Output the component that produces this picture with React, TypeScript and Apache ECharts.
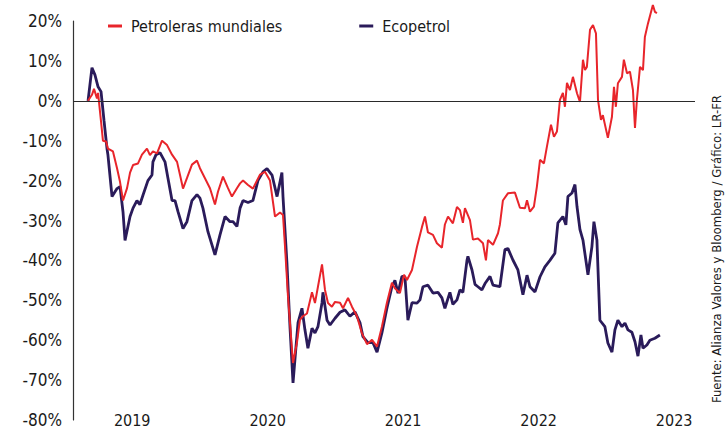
import React, { useEffect, useRef } from "react";
import * as echarts from "echarts";

const seriesNames = ["Petroleras mundiales", "Ecopetrol"];
const yearTicks = [2019, 2020, 2021, 2022, 2023];
const sourceText = "Fuente: Alianza Valores y Bloomberg / Gráfico: LR-FR";

const petrolerasDates = [
  2018.674, 2018.703, 2018.718, 2018.74, 2018.748, 2018.77, 2018.784, 2018.807, 2018.821, 2018.858,
  2018.888, 2018.91, 2018.932, 2018.962, 2018.984, 2019.006, 2019.043, 2019.072, 2019.109, 2019.131,
  2019.153, 2019.183, 2019.22, 2019.257, 2019.294, 2019.331, 2019.353, 2019.375, 2019.404, 2019.441,
  2019.478, 2019.5, 2019.537, 2019.574, 2019.611, 2019.633, 2019.67, 2019.707, 2019.736, 2019.773,
  2019.796, 2019.818, 2019.855, 2019.891, 2019.943, 2019.98, 2020.017, 2020.054, 2020.091, 2020.113,
  2020.128, 2020.15, 2020.187, 2020.216, 2020.238, 2020.26, 2020.29, 2020.327, 2020.349, 2020.371,
  2020.401, 2020.423, 2020.445, 2020.474, 2020.497, 2020.534, 2020.556, 2020.593, 2020.622, 2020.659,
  2020.696, 2020.733, 2020.77, 2020.807, 2020.843, 2020.88, 2020.917, 2020.939, 2020.976, 2021.006,
  2021.028, 2021.065, 2021.102, 2021.139, 2021.161, 2021.183, 2021.22, 2021.249, 2021.286, 2021.308,
  2021.331, 2021.367, 2021.397, 2021.419, 2021.441, 2021.456, 2021.493, 2021.515, 2021.552, 2021.589,
  2021.611, 2021.626, 2021.663, 2021.7, 2021.714, 2021.736, 2021.773, 2021.825, 2021.862, 2021.899,
  2021.914, 2021.936, 2021.965, 2021.987, 2022.01, 2022.039, 2022.061, 2022.091, 2022.113, 2022.135,
  2022.157, 2022.179, 2022.194, 2022.209, 2022.231, 2022.253, 2022.283, 2022.305, 2022.327, 2022.342,
  2022.356, 2022.379, 2022.401, 2022.423, 2022.438, 2022.46, 2022.474, 2022.511, 2022.541, 2022.556,
  2022.57, 2022.585, 2022.615, 2022.629, 2022.652, 2022.674, 2022.696, 2022.711, 2022.725, 2022.748,
  2022.77, 2022.784, 2022.807, 2022.843, 2022.858, 2022.873,
];
const petrolerasValues = [
  0, 1.5, 3, 0.6, 2, -5.2, -10, -10.2, -12, -12.7,
  -16.9, -20.3, -25, -21.9, -18, -16.1, -15.7, -13.5, -12, -13.6,
  -12.7, -13.2, -10, -11.1, -13.5, -15.3, -18.6, -22, -19.4, -16,
  -15, -16.9, -19.4, -21.9, -26, -22.8, -19, -21.9, -24, -21.9,
  -20.7, -20, -21.1, -22, -18.5, -17.8, -20, -29, -28, -28.6,
  -36.6, -49.1, -65.7, -60.6, -54.9, -54, -53.3, -48, -50.7, -46.6,
  -41, -47.4, -50.7, -51.6, -50.4, -50.6, -52, -49.4, -51.6, -54,
  -58.3, -61, -59.9, -61.6, -56.6, -50.6, -45.6, -47, -48.2, -43.6,
  -44.9, -42.4, -36.6, -31.6, -29, -33, -33.6, -35.7, -36.8, -31,
  -29, -30.7, -26.6, -27.4, -30.6, -26.9, -29.9, -34.8, -34.5, -35.7,
  -40, -34.9, -36.1, -33.2, -31, -25, -23.2, -23, -26.8, -26.9,
  -24.9, -27.8, -26.5, -21.5, -14.8, -15.7, -11.5, -6, -9, -7.7,
  0.25, 2, -1.5, 4.5, 2.7, 6, 1.9, -0.25, 10.3, 7.7,
  8.5, 17.8, 19, 16.9, 0.25, -4.8, -3.6, -9.3, -4, 3.5,
  -1.5, 4.4, 6, 10.3, 6.9, 7.3, 2.7, -6.8, 0.2, 8.5,
  7.7, 16, 19.4, 24, 22.3, 22,
];

const ecopetrolDates = [
  2018.674, 2018.703, 2018.725, 2018.748, 2018.77, 2018.777, 2018.792, 2018.814, 2018.821, 2018.851,
  2018.888, 2018.91, 2018.932, 2018.947, 2018.984, 2019.006, 2019.035, 2019.057, 2019.08, 2019.116,
  2019.146, 2019.153, 2019.176, 2019.205, 2019.242, 2019.264, 2019.294, 2019.316, 2019.338, 2019.375,
  2019.404, 2019.441, 2019.478, 2019.5, 2019.522, 2019.559, 2019.611, 2019.648, 2019.685, 2019.722,
  2019.744, 2019.773, 2019.796, 2019.818, 2019.855, 2019.891, 2019.928, 2019.965, 2019.995, 2020.032,
  2020.069, 2020.105, 2020.113, 2020.142, 2020.165, 2020.187, 2020.209, 2020.224, 2020.253, 2020.275,
  2020.297, 2020.327, 2020.349, 2020.371, 2020.401, 2020.408, 2020.438, 2020.46, 2020.497, 2020.534,
  2020.57, 2020.607, 2020.644, 2020.681, 2020.703, 2020.74, 2020.777, 2020.807, 2020.843, 2020.88,
  2020.917, 2020.939, 2020.962, 2020.991, 2021.013, 2021.035, 2021.065, 2021.102, 2021.124, 2021.146,
  2021.183, 2021.22, 2021.257, 2021.286, 2021.308, 2021.345, 2021.367, 2021.397, 2021.419, 2021.441,
  2021.471, 2021.478, 2021.508, 2021.53, 2021.552, 2021.581, 2021.604, 2021.641, 2021.663, 2021.714,
  2021.751, 2021.773, 2021.81, 2021.847, 2021.884, 2021.914, 2021.936, 2021.973, 2022.01, 2022.046,
  2022.083, 2022.12, 2022.142, 2022.179, 2022.201, 2022.216, 2022.246, 2022.268, 2022.283, 2022.305,
  2022.327, 2022.364, 2022.393, 2022.408, 2022.43, 2022.452, 2022.489, 2022.511, 2022.541, 2022.563,
  2022.585, 2022.615, 2022.637, 2022.659, 2022.688, 2022.711, 2022.733, 2022.755, 2022.77, 2022.799,
  2022.821, 2022.858, 2022.895,
];
const ecopetrolValues = [
  0, 8.3, 6.5, 3.5, 2.3, 0, -5, -12, -13.6, -24,
  -22, -21.5, -27.8, -35, -29, -26.9, -25, -26, -23.6, -20,
  -18.6, -15.3, -13.5, -13, -15.3, -19.4, -25, -25, -27.8, -32,
  -30.3, -25, -23.5, -24.4, -26.9, -32.8, -38.6, -33.6, -29, -30.3,
  -30.3, -31.5, -26.9, -25, -25.5, -25, -20, -17.8, -17, -18.6,
  -24, -18, -24, -40.6, -57, -70.7, -61.6, -55.6, -52, -57.4,
  -62, -57, -58.2, -56.6, -50.6, -48, -55, -56.2, -54.5, -53,
  -52.4, -54, -52.9, -55.6, -59.1, -60.6, -60.6, -63, -58.2, -52,
  -46.6, -45, -48.2, -44, -44.1, -55, -50.6, -50.7, -49.9, -46.6,
  -46.2, -48.2, -48, -49.4, -52, -48, -51, -49.9, -47.4, -48,
  -40, -39, -42.4, -46, -46.6, -47.4, -45.8, -44, -46.2, -46.6,
  -37.3, -37, -39.9, -42.4, -48.6, -43.7, -46.6, -47.9, -44.1, -41.6,
  -40, -38.2, -30.6, -29, -31.1, -24, -23.1, -21, -26.5, -32.3,
  -34.9, -43.6, -36.6, -30.3, -34.9, -55, -56.6, -60.7, -63, -57.4,
  -55, -56.6, -55.7, -57.4, -58, -60.4, -64, -58.7, -62, -61.2,
  -60, -59.5, -58.7,
];

const FONT = '"Liberation Sans Narrow", "DejaVu Sans Condensed", "Roboto Condensed", sans-serif';
const RED = "#e8252b";
const NAVY = "#2a1b5a";

export default function App() {
  const ref = useRef<HTMLDivElement>(null);

  useEffect(() => {
    const chart = echarts.init(ref.current!, null, { renderer: "svg" });
    const petData = petrolerasDates.map((d, i) => [d, petrolerasValues[i]]);
    const ecoData = ecopetrolDates.map((d, i) => [d, ecopetrolValues[i]]);

    chart.setOption({
      animation: false,
      backgroundColor: "#ffffff",
      textStyle: { fontFamily: FONT },
      grid: { left: 73, right: 32, top: 21, bottom: 14, containLabel: false },
      legend: {
        left: 103,
        top: 13,
        itemGap: 77,
        icon: "rect",
        itemWidth: 14,
        itemHeight: 3,
        data: [
          { name: seriesNames[0], itemStyle: { color: RED } },
          { name: seriesNames[1], itemStyle: { color: NAVY } },
        ],
        textStyle: { fontFamily: FONT, fontSize: 16, color: "#1a1a1a", padding: [0, 0, 0, 4] },
      },
      xAxis: {
        type: "value",
        min: 2018.563,
        max: 2023.154,
        axisLine: { show: false },
        axisTick: { show: false },
        splitLine: { show: false },
        axisLabel: {
          customValues: yearTicks,
          formatter: (v: number) => String(Math.round(v)),
          fontFamily: FONT,
          fontSize: 16,
          color: "#1a1a1a",
          margin: 0,
          verticalAlign: "middle",
        },
      },
      yAxis: {
        type: "value",
        min: -80,
        max: 20,
        interval: 10,
        axisLine: { show: true, lineStyle: { color: "#333", width: 1.2 } },
        axisTick: { show: false },
        splitLine: { show: false },
        axisLabel: {
          formatter: "{value}%",
          fontFamily: FONT,
          fontSize: 17,
          color: "#1a1a1a",
          margin: 11,
        },
      },
      series: [
        {
          name: seriesNames[1],
          type: "line",
          data: ecoData,
          symbol: "none",
          clip: false,
          lineStyle: { color: NAVY, width: 2.8 },
          itemStyle: { color: NAVY },
          markLine: {
            silent: true,
            symbol: ["none", "none"],
            label: { show: false },
            lineStyle: { color: "#2a2a2a", width: 1.2, type: "solid" },
            data: [{ yAxis: 0 }],
          },
          z: 2,
        },
        {
          name: seriesNames[0],
          type: "line",
          data: petData,
          symbol: "none",
          clip: false,
          lineStyle: { color: RED, width: 2 },
          itemStyle: { color: RED },
          z: 3,
        },
      ],
      graphic: [
        {
          type: "text",
          x: 716,
          y: 95,
          rotation: Math.PI / 2,
          style: {
            text: sourceText,
            fontFamily: FONT,
            fontSize: 13,
            fill: "#1a1a1a",
            textAlign: "right",
            textVerticalAlign: "middle",
          },
        },
      ],
    });

    return () => chart.dispose();
  }, []);

  return (
    <div
      ref={ref}
      style={{ position: "absolute", left: 0, top: 0, width: 727, height: 434, background: "#fff" }}
    />
  );
}
